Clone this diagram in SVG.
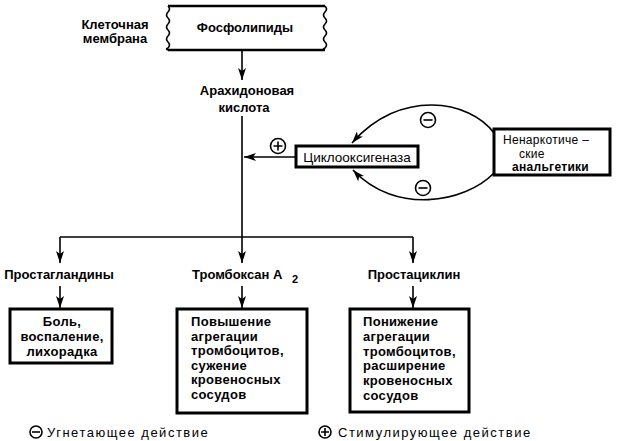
<svg xmlns="http://www.w3.org/2000/svg" width="617" height="441" viewBox="0 0 617 441">
<style>
  .t { font-family: "Liberation Sans", Arial, sans-serif; font-size: 13px; font-weight: bold; fill: #000; }
  .n { font-weight: normal; }
  .m { text-anchor: middle; }
  .bx { letter-spacing: 0.3px; }
  .box { fill: #fff; stroke: #000; stroke-width: 3; }
  .ln { fill: none; stroke: #000; stroke-width: 1.6; }
  .sym { fill: #fff; stroke: #000; stroke-width: 1.6; }
</style>
<defs>
  <marker id="ah" viewBox="0 0 12 8" refX="12" refY="4" markerWidth="12" markerHeight="8" markerUnits="userSpaceOnUse" orient="auto">
    <path d="M0,0 L12,4 L0,8 L3,4 z" fill="#000"/>
  </marker>
</defs>
<rect width="617" height="441" fill="#fff"/>

<g id="connectors">
  <line class="ln" x1="242" y1="50" x2="242" y2="80" marker-end="url(#ah)"/>
  <line class="ln" x1="242" y1="116" x2="242" y2="237"/>
  <line class="ln" x1="60" y1="237" x2="413" y2="237"/>
  <line class="ln" x1="60" y1="237" x2="60" y2="263" marker-end="url(#ah)"/>
  <line class="ln" x1="242" y1="237" x2="242" y2="263" marker-end="url(#ah)"/>
  <line class="ln" x1="413" y1="237" x2="413" y2="263" marker-end="url(#ah)"/>
  <line class="ln" x1="60" y1="286" x2="60" y2="308" marker-end="url(#ah)"/>
  <line class="ln" x1="242" y1="286" x2="242" y2="308" marker-end="url(#ah)"/>
  <line class="ln" x1="413" y1="286" x2="413" y2="308" marker-end="url(#ah)"/>
  <line class="ln" x1="296" y1="157" x2="244" y2="157" marker-end="url(#ah)"/>
  <path class="ln" d="M494,133 C470,100 400,88 352,143" marker-end="url(#ah)"/>
  <path class="ln" d="M494,173 C465,203 395,215 353,170" marker-end="url(#ah)"/>
</g>

<g id="membrane-label">
  <text class="t m" x="115" y="29">Клеточная</text>
  <text class="t m" x="115" y="43">мембрана</text>
</g>

<g id="phospholipids">
  <rect x="168" y="6" width="157" height="44" fill="#fff"/>
  <line x1="168" y1="6" x2="325" y2="6" stroke="#000" stroke-width="2.5"/>
  <line x1="168" y1="50" x2="325" y2="50" stroke="#000" stroke-width="2.5"/>
  <path class="ln" d="M168,6 q3,3 0,6 q-3,3 0,6 q3,3 0,6 q-3,3 0,6 q3,3 0,6 q-3,3 0,6 q3,3 0,6 q-3,1 0,2"/>
  <path class="ln" d="M325,6 q3,3 0,6 q-3,3 0,6 q3,3 0,6 q-3,3 0,6 q3,3 0,6 q-3,3 0,6 q3,3 0,6 q-3,1 0,2"/>
  <text class="t m" x="245" y="32">Фосфолипиды</text>
</g>

<g id="arachidonic">
  <text class="t m" x="247" y="95">Арахидоновая</text>
  <text class="t m" x="244" y="112">кислота</text>
</g>

<g id="cyclooxygenase">
  <rect class="box" x="296" y="146" width="122" height="21"/>
  <text class="t n m" x="357" y="162" style="font-size:13.5px">Циклооксигеназа</text>
</g>

<g id="analgesics">
  <rect class="box" x="494" y="129" width="116" height="46"/>
  <text class="t n" x="503" y="144" style="font-size:12px;letter-spacing:0.3px">Ненаркотиче –</text>
  <text class="t n" x="519" y="157.5" style="font-size:12px;letter-spacing:0.3px">ские</text>
  <text class="t" x="512" y="171" style="font-size:12px;letter-spacing:0.3px">анальгетики</text>
</g>

<g id="signs">
  <circle class="sym" cx="278" cy="146" r="7.5"/>
  <path d="M273.5,146 h9 M278,141.5 v9" stroke="#000" stroke-width="1.6"/>
  <circle class="sym" cx="428" cy="120" r="7.5"/>
  <path d="M423.5,120 h9" stroke="#000" stroke-width="1.6"/>
  <circle class="sym" cx="423" cy="188" r="7.5"/>
  <path d="M418.5,188 h9" stroke="#000" stroke-width="1.6"/>
</g>

<g id="prostaglandins">
  <text class="t m" x="59" y="279">Простагландины</text>
</g>
<g id="thromboxane">
  <text class="t" x="192" y="279">Тромбоксан  A</text>
  <text class="t" x="292" y="283" style="font-size:11px">2</text>
</g>
<g id="prostacyclin">
  <text class="t m" x="414" y="279">Простациклин</text>
</g>

<g id="pain">
  <rect class="box" x="10" y="309" width="102" height="54"/>
  <text class="t m bx" x="62" y="326">Боль,</text>
  <text class="t m bx" x="62" y="341">воспаление,</text>
  <text class="t m bx" x="62" y="356">лихорадка</text>
</g>

<g id="increase">
  <rect class="box" x="177" y="309" width="130" height="104"/>
  <text class="t bx" x="191" y="326">Повышение</text>
  <text class="t bx" x="191" y="340.6">агрегации</text>
  <text class="t bx" x="191" y="355.2">тромбоцитов,</text>
  <text class="t bx" x="191" y="369.8">сужение</text>
  <text class="t bx" x="191" y="384.4">кровеносных</text>
  <text class="t bx" x="191" y="399">сосудов</text>
</g>

<g id="decrease">
  <rect class="box" x="350" y="309" width="119" height="103"/>
  <text class="t bx" x="363" y="326">Понижение</text>
  <text class="t bx" x="363" y="340.8">агрегации</text>
  <text class="t bx" x="363" y="355.6">тромбоцитов,</text>
  <text class="t bx" x="363" y="370.4">расширение</text>
  <text class="t bx" x="363" y="385.2">кровеносных</text>
  <text class="t bx" x="363" y="400">сосудов</text>
</g>

<g id="legend">
  <circle class="sym" cx="36" cy="432" r="6"/>
  <path d="M32,432 h8" stroke="#000" stroke-width="1.6"/>
  <text class="t n" x="47" y="437" style="letter-spacing:1.5px">Угнетающее действие</text>
  <circle class="sym" cx="325" cy="432" r="6"/>
  <path d="M321,432 h8 M325,428 v8" stroke="#000" stroke-width="1.6"/>
  <text class="t n" x="338" y="437" style="letter-spacing:1.5px">Стимулирующее действие</text>
</g>
</svg>
